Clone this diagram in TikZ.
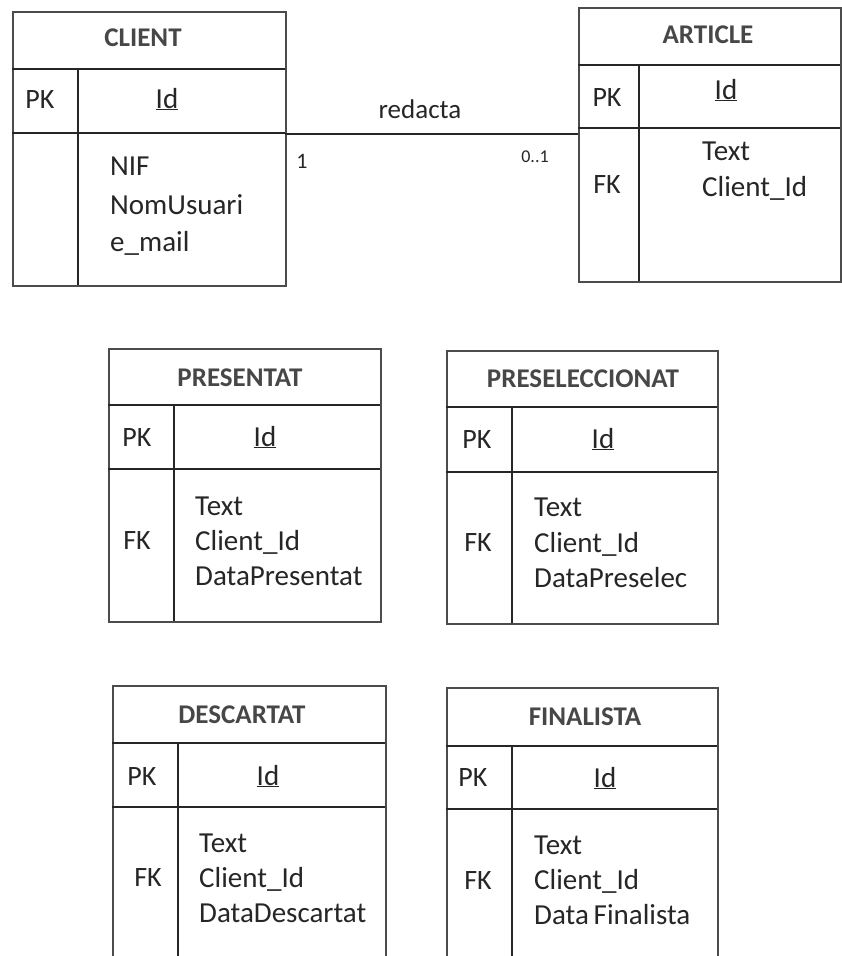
\documentclass[tikz,border=0pt]{standalone}
\usepackage{fontspec}
\setmainfont{Carlito}

% Entity table: #1 name, #2 left, #3 top, #4 right, #5 bottom,
% #6 bottom of title row, #7 bottom of key row, #8 x of key column divider
\newcommand\ertable[8]{%
  \node[frame, anchor=north west, minimum width={(#4-#2)*1pt},
        minimum height={(#5-#3)*1pt}] (#1) at (#2,#3) {};
  \draw[rule] (#2,#6) -- (#4,#6);
  \draw[rule] (#2,#7) -- (#4,#7);
  \draw[rule] (#8,#6) -- (#8,#5);
}

\begin{document}
\begin{tikzpicture}[x=1pt, y=-1pt,
  rule/.style={line width=1.5pt, draw=black!85},
  frame/.style={line width=1.9pt, draw=black!70, inner sep=0pt},
  ttl/.style={font=\fontsize{27}{32}\selectfont\bfseries, text=black!72, inner sep=0pt,
              text height=17pt, text depth=0pt},
  fld/.style={font=\fontsize{29}{35}\selectfont, text=black!85, inner sep=0pt,
              anchor=west, text height=18pt, text depth=0pt},
  key/.style={font=\fontsize{28}{33}\selectfont, text=black!85, inner sep=0pt,
              text height=17.5pt, text depth=0pt},
  pkid/.style={font=\fontsize{29}{35}\selectfont, text=black!85, inner sep=0pt,
               text height=18pt, text depth=0pt},
  lbl/.style={font=\fontsize{27}{32}\selectfont, text=black!85, inner sep=0pt,
              text height=17pt, text depth=0pt},
  card/.style={text=black!85, inner sep=0pt}]

\useasboundingbox (0,0) rectangle (842,956);
\fill[white] (0,0) rectangle (842,956);

% ---------------- CLIENT ----------------
\ertable{client}{12}{11}{285}{285}{69}{133}{78}
\node[ttl] (client-t) at (143,38) {CLIENT};
\node[key] (client-pk) at (40,100) {PK};
\node[pkid] (client-id) at (167,99) {\underline{Id}};
\node[fld] (client-f1) at (110,166) {NIF};
\node[fld] (client-f2) at (110,205) {NomUsuari};
\node[fld] (client-f3) at (110,242) {e\_mail};

% ---------------- ARTICLE ----------------
\ertable{article}{578}{7}{840}{281}{65}{128}{639}
\node[ttl] (article-t) at (708,35) {ARTICLE};
\node[key] (article-pk) at (607,98) {PK};
\node[pkid] (article-id) at (726,90) {\underline{Id}};
\node[key] (article-fk) at (607,185) {FK};
\node[fld] (article-f1) at (702,151) {Text};
\node[fld] (article-f2) at (702,187) {Client\_Id};

% ---------------- relationship ----------------
\coordinate (link) at (285,134);
\draw[rule] (link) -- (link -| article.west);
\node[lbl] (rel) at (420,110) {redacta};
\node[card, font=\fontsize{22}{26}\selectfont] (card-c) at (302,161) {1};
\node[card, font=\fontsize{18}{22}\selectfont] (card-a) at (535,157) {0..1};

% ---------------- PRESENTAT ----------------
\ertable{pres}{108}{348}{380}{621}{405}{469}{174}
\node[ttl] (pres-t) at (240,378) {PRESENTAT};
\node[key] (pres-pk) at (137,438) {PK};
\node[pkid] (pres-id) at (265,437) {\underline{Id}};
\node[key] (pres-fk) at (137,541) {FK};
\node[fld] (pres-f1) at (195,506) {Text};
\node[fld] (pres-f2) at (195,541) {Client\_Id};
\node[fld] (pres-f3) at (195,576) {DataPresentat};

% ---------------- PRESELECCIONAT ----------------
\ertable{presel}{446}{350}{717}{623}{407}{472}{512}
\node[ttl] (presel-t) at (583,379) {PRESELECCIONAT};
\node[key] (presel-pk) at (477,440) {PK};
\node[pkid] (presel-id) at (603,439) {\underline{Id}};
\node[key] (presel-fk) at (478,543) {FK};
\node[fld] (presel-f1) at (534,507) {Text};
\node[fld] (presel-f2) at (534,543) {Client\_Id};
\node[fld] (presel-f3) at (534,578) {DataPreselec};

% ---------------- DESCARTAT ----------------
\ertable{desc}{112}{685}{385}{990}{743}{807}{178}
\node[ttl] (desc-t) at (242,715) {DESCARTAT};
\node[key] (desc-pk) at (142,777) {PK};
\node[pkid] (desc-id) at (268,776) {\underline{Id}};
\node[key] (desc-fk) at (148,878) {FK};
\node[fld] (desc-f1) at (199,843) {Text};
\node[fld] (desc-f2) at (199,878) {Client\_Id};
\node[fld] (desc-f3) at (199,913) {DataDescartat};

% ---------------- FINALISTA ----------------
\ertable{fin}{446}{687}{717}{990}{746}{809}{512}
\node[ttl] (fin-t) at (585,717) {FINALISTA};
\node[key] (fin-pk) at (473,778) {PK};
\node[pkid] (fin-id) at (605,778) {\underline{Id}};
\node[key] (fin-fk) at (478,881) {FK};
\node[fld] (fin-f1) at (534,845) {Text};
\node[fld] (fin-f2) at (534,880) {Client\_Id};
\node[fld] (fin-f3) at (534,915) {Data\,Finalista};

\end{tikzpicture}
\end{document}
